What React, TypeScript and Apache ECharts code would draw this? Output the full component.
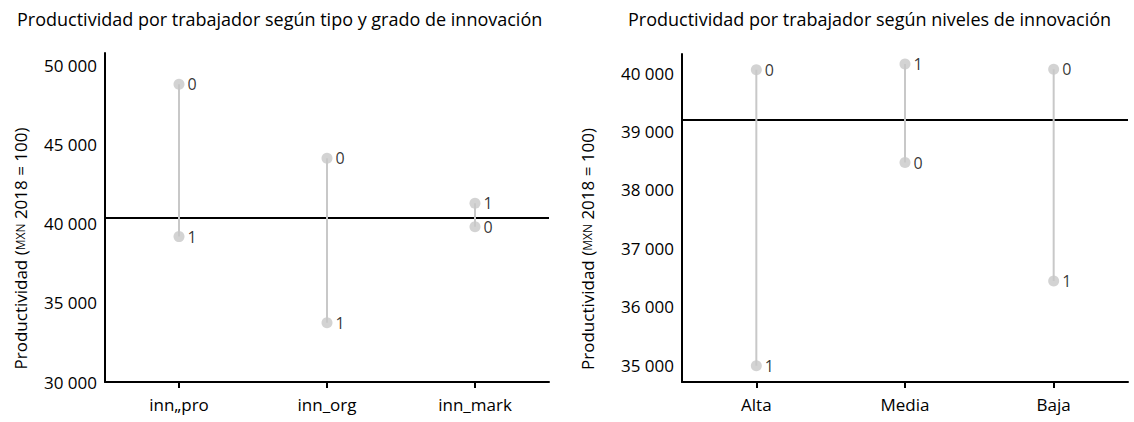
import React, { useEffect, useRef } from "react";
import * as echarts from "echarts";

const leftTitle = "Productividad por trabajador según tipo y grado de innovación";
const rightTitle = "Productividad por trabajador según niveles de innovación";
const leftCategories = ["inn\u201epro", "inn_org", "inn_mark"];
const leftGroup0 = [48840, 44160, 39830];
const leftGroup1 = [39200, 33750, 41310];
const leftMean = 40400;
const leftRange = [30000, 50820];
const leftStep = 5000;

const rightCategories = ["Alta", "Media", "Baja"];
const rightGroup0 = [40060, 38470, 40070];
const rightGroup1 = [34990, 40160, 36440];
const rightMean = 39200;
const rightRange = [34710, 40330];
const rightStep = 1000;

const groupNames = ["0", "1"];

const FONT = "'Open Sans'";
const GRAY = "#c8c8c8";

const fmt = (step: number) => (v: number) =>
  v % step === 0 ? String(v).replace(/\B(?=(\d{3})+(?!\d))/g, " ") : "";

function buildSeries(
  idx: number,
  g0: number[],
  g1: number[],
  mean: number
): any[] {
  const out: any[] = [];
  g0.forEach((v, i) => {
    out.push({
      type: "line",
      xAxisIndex: idx,
      yAxisIndex: idx,
      data: [
        [i, v],
        [i, g1[i]],
      ],
      showSymbol: false,
      symbol: "none",
      lineStyle: { color: GRAY, width: 2 },
      silent: true,
      z: 2,
      markLine:
        i === 0
          ? {
              symbol: "none",
              silent: true,
              label: { show: false },
              lineStyle: { color: "#000", width: 2, type: "solid" },
              data: [{ yAxis: mean }],
              z: 1,
            }
          : undefined,
    });
  });
  [g0, g1].forEach((g, k) => {
    out.push({
      type: "scatter",
      name: groupNames[k],
      xAxisIndex: idx,
      yAxisIndex: idx,
      data: g,
      symbol: "circle",
      symbolSize: 11,
      itemStyle: { color: GRAY },
      z: 3,
      label: {
        show: true,
        position: "right",
        distance: 3,
        formatter: groupNames[k],
        color: "#000000",
        textBorderWidth: 0,
        fontFamily: FONT,
        fontSize: 16,
      },
    });
  });
  return out;
}

const yName = {
  name: "{a|Productividad (}{s|MXN}{a| 2018 = 100)}",
  nameLocation: "middle",
  nameTextStyle: {
    rich: {
      a: { fontFamily: FONT, fontSize: 17, color: "#000" },
      s: { fontFamily: FONT, fontSize: 12, color: "#000" },
    },
    padding: [0, 62, 0, 0],
  },
};

export default function App() {
  const ref = useRef<HTMLDivElement>(null);
  useEffect(() => {
    if (!ref.current) return;
    const chart = echarts.init(ref.current, undefined, { renderer: "svg" });
    const axisLine = { show: true, lineStyle: { color: "#000", width: 2 } };
    const axisLabel = { color: "#000", fontFamily: FONT, fontSize: 17 };
    const titleStyle = { fontFamily: FONT, fontSize: 18, fontWeight: "normal", color: "#000" };
    chart.setOption({
      animation: false,
      backgroundColor: "#fff",
      title: [
        { text: leftTitle, left: 12, top: 5, textStyle: titleStyle },
        { text: rightTitle, left: 623, top: 5, textStyle: titleStyle },
      ],
      grid: [
        { left: 105, top: 53, width: 444, height: 329 },
        { left: 682, top: 54, width: 446, height: 328 },
      ],
      xAxis: [
        {
          type: "category",
          gridIndex: 0,
          data: leftCategories,
          axisLine,
          axisTick: { show: true, alignWithLabel: true, length: 6, lineStyle: { color: "#000", width: 2 } },
          axisLabel: { ...axisLabel, margin: 14 },
        },
        {
          type: "category",
          gridIndex: 1,
          data: rightCategories,
          axisLine,
          axisTick: { show: true, alignWithLabel: true, length: 6, lineStyle: { color: "#000", width: 2 } },
          axisLabel: { ...axisLabel, margin: 14 },
        },
      ],
      yAxis: [
        {
          type: "value",
          gridIndex: 0,
          min: leftRange[0],
          max: leftRange[1],
          minInterval: leftStep,
          maxInterval: leftStep,
          axisLine,
          axisTick: { show: false },
          splitLine: { show: false },
          axisLabel: { ...axisLabel, margin: 8, formatter: fmt(leftStep) },
          ...yName,
          nameGap: 76,
        },
        {
          type: "value",
          gridIndex: 1,
          min: rightRange[0],
          max: rightRange[1],
          minInterval: rightStep,
          maxInterval: rightStep,
          axisLine,
          axisTick: { show: false },
          splitLine: { show: false },
          axisLabel: { ...axisLabel, margin: 8, formatter: fmt(rightStep) },
          ...yName,
          nameGap: 86,
        },
      ],
      series: [
        ...buildSeries(0, leftGroup0, leftGroup1, leftMean),
        ...buildSeries(1, rightGroup0, rightGroup1, rightMean),
      ],
    });
    return () => chart.dispose();
  }, []);
  return (
    <div
      ref={ref}
      style={{ position: "fixed", left: 0, top: 0, width: 1134, height: 422, background: "#fff" }}
    />
  );
}
